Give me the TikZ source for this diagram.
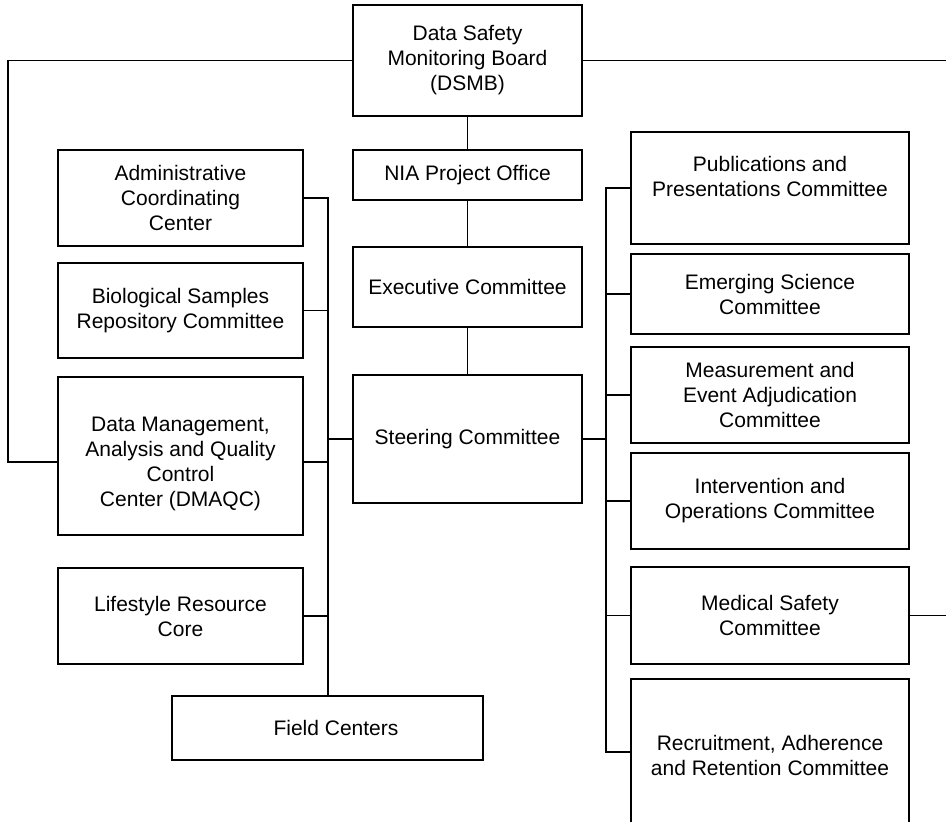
\documentclass[tikz,border=0pt]{standalone}
\usepackage{fontspec}
\setmainfont{Liberation Sans}
\begin{document}
\begin{tikzpicture}[x=1pt,y=-1pt,
  box/.style={draw=black,line width=1.4pt,rectangle,inner sep=0pt,align=center,
    font=\fontsize{21}{25}\selectfont,text=black},
  txt/.style={inner sep=0pt,align=center,font=\fontsize{21}{25}\selectfont,text=black},
  conn/.style={draw=black,line width=1.4pt}]
\clip (0,0) rectangle (946,822);
\fill[white] (0,0) rectangle (946,822);
% centre column
\node[box,minimum width=229pt,minimum height=111pt] (dsmb) at (467.5,60.5) {Data Safety\\Monitoring Board\\(DSMB)};
\node[box,minimum width=229pt,minimum height=50pt] (nia) at (467.5,175) {NIA Project Office};
\node[box,minimum width=229pt,minimum height=80pt] (exec) at (467.5,287) {Executive Committee};
\node[box,minimum width=229pt,minimum height=128pt] (steer) at (467.5,439) {Steering Committee};
% left column
\node[box,minimum width=245pt,minimum height=96pt] (admin) at (180.5,198) {Administrative\\Coordinating\\Center};
\node[box,minimum width=245pt,minimum height=95pt] (bio) at (180.5,310.5) {Biological Samples\\Repository Committee};
\node[box,minimum width=245pt,minimum height=158pt] (dmaqc) at (180.5,456) {};
\node[txt] (dmaqct) at ([yshift=-8pt]dmaqc.center) {Data Management,\\Analysis and Quality\\Control\\Center (DMAQC)};
\node[box,minimum width=245pt,minimum height=96pt] (life) at (180.5,616) {Lifestyle Resource\\Core};
\node[box,minimum width=311pt,minimum height=64pt] (field) at (327.5,728) {};
\node[txt] (fieldt) at ([xshift=8.5pt]field.center) {Field Centers};
% right column
\node[box,minimum width=278pt,minimum height=112pt] (pub) at (770,188) {};
\node[txt] (pubt) at ([yshift=12pt]pub.center) {Publications and\\Presentations Committee};
\node[box,minimum width=278pt,minimum height=80pt] (emerg) at (770,294) {Emerging Science\\Committee};
\node[box,minimum width=278pt,minimum height=96pt] (meas) at (770,395) {Measurement and\\Event Adjudication\\Committee};
\node[box,minimum width=278pt,minimum height=96pt] (interv) at (770,501) {Intervention and\\Operations Committee};
\node[box,minimum width=278pt,minimum height=97pt] (med) at (770,615.5) {Medical Safety\\Committee};
\node[box,minimum width=278pt,minimum height=152pt] (recr) at (770,755) {Recruitment, Adherence\\and Retention Committee};
% bus coordinates
\coordinate (lb) at (328,0);
\coordinate (rb) at (606,0);
\coordinate (lft) at (8,0);
\coordinate (redge) at (946,0);
% DSMB links
\draw[conn] (dsmb.west) -- (dsmb.west -| lft) -- ([yshift=-6pt]dmaqc.west -| lft) -- ([yshift=-6pt]dmaqc.west);
\draw[conn] (dsmb.east) -- (dsmb.east -| redge);
\draw[conn] (dsmb.south) -- (nia.north);
\draw[conn] (nia.south) -- (exec.north);
\draw[conn] (exec.south) -- (steer.north);
% left bus
\draw[conn] (admin.east) -- (admin.east -| lb) -- (field.north -| lb);
\draw[conn] (bio.east) -- (bio.east -| lb);
\draw[conn] ([yshift=-6pt]dmaqc.east) -- ([yshift=-6pt]dmaqc.east -| lb);
\draw[conn] (life.east) -- (life.east -| lb);
\draw[conn] (steer.west) -- (steer.west -| lb);
% right bus
\draw[conn] (pub.west) -- (pub.west -| rb) -- ([yshift=3pt]recr.west -| rb) -- ([yshift=3pt]recr.west);
\draw[conn] (steer.east) -- (steer.east -| rb);
\draw[conn] (emerg.west) -- (emerg.west -| rb);
\draw[conn] (meas.west) -- (meas.west -| rb);
\draw[conn] (interv.west) -- (interv.west -| rb);
\draw[conn] (med.west) -- (med.west -| rb);
\draw[conn] (med.east) -- (med.east -| redge);
\end{tikzpicture}
\end{document}
